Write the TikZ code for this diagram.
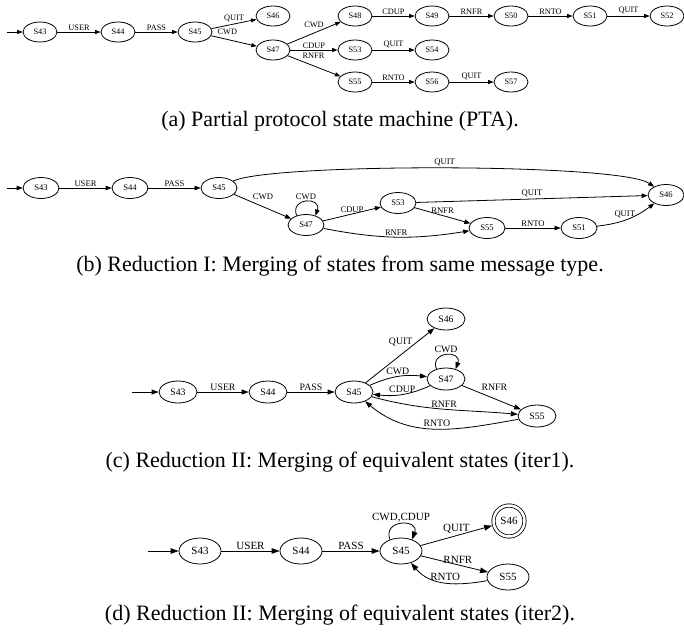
\documentclass[tikz,border=0pt]{standalone}
\usepackage{fontspec}
\setmainfont{Liberation Serif}
\usetikzlibrary{shapes.geometric,arrows.meta}

\begin{document}
\begin{tikzpicture}[x=1pt,y=1pt,
    stnode/.style={ellipse,draw,inner sep=0pt,line width=0.8pt},
    trans/.style={draw,line width=0.8pt,-{Triangle[length=6pt,width=4.5pt]}},
    lbl/.style={inner sep=1.5pt},
    capt/.style={font=\fontsize{22}{26}\selectfont}]
\useasboundingbox (0,0) rectangle (684,-633);

% (a) PTA
\begin{scope}[shift={(0,-32)},
    stnode/.append style={minimum width=34pt,minimum height=20pt},
    trans/.append style={-{Triangle[length=5.5pt,width=4pt]}},
    every node/.append style={font=\fontsize{8.3}{10}\selectfont}]
    \coordinate (a0) at (7,0);
    \foreach \n/\x/\y in {43/40/0,44/118/0,45/195/0,46/273/16,47/273/-18,
        48/355/16,49/432/16,50/511/16,51/590/16,52/667/16,
        53/355/-18,54/432/-18,55/355/-50,56/432/-50,57/511/-50}{
        \node[stnode] (a\n) at (\x,\y) {S\n};
    }
    \draw[trans] (a0) -- (a43);
    \foreach \s/\t/\l in {43/44/USER,44/45/PASS,45/46/QUIT,47/53/CDUP,
        48/49/CDUP,49/50/RNFR,50/51/RNTO,51/52/QUIT,53/54/QUIT,
        55/56/RNTO,56/57/QUIT}{
        \draw[trans] (a\s) -- node[lbl,above] (a-\s-\t) {\l} (a\t);
    }
    \draw[trans] (a45) -- node[lbl,above right,pos=0.1] (a-45-47) {CWD} (a47);
    \draw[trans] (a47) -- node[lbl,above=3pt] (a-47-48) {CWD} (a48);
    \draw[trans] (a47) -- node[lbl,above right,pos=0.25] (a-47-55) {RNFR} (a55);
    \node[capt] (a-cap) at (340,-89) {(a) Partial protocol state machine (PTA).};
\end{scope}

% (b) reduction I
\begin{scope}[shift={(0,-188)},
    stnode/.append style={minimum width=36pt,minimum height=21pt},
    every node/.append style={font=\fontsize{8.6}{10}\selectfont}]
    \coordinate (b0) at (7,0);
    \foreach \n/\x/\y in {43/41/0,44/130/0,45/219/0,47/306/-37,
        53/398/-15,55/487/-40,51/579/-40,46/666/-7}{
        \node[stnode] (b\n) at (\x,\y) {S\n};
    }
    \draw[trans] (b0) -- (b43);
    \foreach \s/\t/\l in {43/44/USER,44/45/PASS,47/53/CDUP,53/55/RNFR,
        53/46/QUIT,55/51/RNTO}{
        \draw[trans] (b\s) -- node[lbl,above] (b-\s-\t) {\l} (b\t);
    }
    \draw[trans] (b45) .. controls (270,25) and (620,25) .. node[lbl,above] (b-45-46) {QUIT} (b46);
    \draw[trans] (b45) -- node[lbl,above right,pos=0.3] (b-45-47) {CWD} (b47);
    \draw[trans] (b47.135) .. controls +(110:20) and +(70:20) .. node[lbl,above] (b-47-47) {CWD} (b47.45);
    \draw[trans] (b47) to[bend right=10] node[lbl,above] (b-47-55) {RNFR} (b55);
    \draw[trans] (b51) to[bend right=15] node[lbl,above,pos=0.45] (b-51-46) {QUIT} (b46);
    \node[capt] (b-cap) at (340,-78) {(b) Reduction I: Merging of states from same message type.};
\end{scope}

% (c) reduction II, iter1
\begin{scope}[shift={(0,-392)},
    stnode/.append style={minimum width=38pt,minimum height=22pt},
    trans/.append style={-{Triangle[length=7pt,width=5pt]}},
    every node/.append style={font=\fontsize{9.8}{11}\selectfont}]
    \coordinate (c0) at (132,0);
    \foreach \n/\x/\y in {43/178/0,44/268/0,45/354/0,46/446/73,47/446/13,55/537/-24}{
        \node[stnode] (c\n) at (\x,\y) {S\n};
    }
    \draw[trans] (c0) -- (c43);
    \draw[trans] (c43) -- node[lbl,above] (c-43-44) {USER} (c44);
    \draw[trans] (c44) -- node[lbl,above] (c-44-45) {PASS} (c45);
    \draw[trans] (c45) -- node[lbl,left=3pt,pos=0.75] (c-45-46) {QUIT} (c46);
    \draw[trans] (c47.134) .. controls +(110:20) and +(70:20) .. node[lbl,above] (c-47-47) {CWD} (c47.46);
    \draw[trans] (c45) to[bend left=15] node[lbl,above] (c-45-47) {CWD} (c47);
    \draw[trans] (c47) to[bend left=15] node[lbl,above] (c-47-45) {CDUP} (c45);
    \draw[trans] (c47) -- node[lbl,above right,pos=0.3] (c-47-55) {RNFR} (c55);
    \draw[trans] (c45) to[out=-15,in=175] node[lbl,above] (c-45-55) {RNFR} (c55);
    \draw[trans] (c55) to[out=190,in=-40] node[lbl,above] (c-55-45) {RNTO} (c45);
    \node[capt] (c-cap) at (340,-70) {(c) Reduction II: Merging of equivalent states (iter1).};
\end{scope}

% (d) reduction II, iter2
\begin{scope}[shift={(0,-551)},
    stnode/.append style={minimum width=42pt,minimum height=26pt},
    trans/.append style={-{Triangle[length=8pt,width=5.5pt]}},
    every node/.append style={font=\fontsize{11}{13}\selectfont}]
    \coordinate (d0) at (148,0);
    \foreach \n/\x/\y in {43/200/0,44/301/0,45/401/0,55/508/-26}{
        \node[stnode] (d\n) at (\x,\y) {S\n};
    }
    \node[draw,circle,double,double distance=2.5pt,line width=0.8pt,
        minimum size=31pt,inner sep=0pt,outer sep=2pt] (d46) at (509,30) {S46};
    \draw[trans] (d0) -- (d43);
    \draw[trans] (d43) -- node[lbl,above] (d-43-44) {USER} (d44);
    \draw[trans] (d44) -- node[lbl,above] (d-44-45) {PASS} (d45);
    \draw[trans] (d45.134) .. controls +(110:22) and +(70:22) .. node[lbl,above] (d-45-45) {CWD,CDUP} (d45.46);
    \draw[trans] (d45) -- node[lbl,above] (d-45-46) {QUIT} (d46);
    \draw[trans] (d45) -- node[lbl,above,pos=0.55,inner sep=1pt] (d-45-55) {RNFR} (d55);
    \draw[trans] (d55) to[out=190,in=-50] node[lbl,above] (d-55-45) {RNTO} (d45);
    \node[capt] (d-cap) at (340,-64) {(d) Reduction II: Merging of equivalent states (iter2).};
\end{scope}
\end{tikzpicture}
\end{document}
